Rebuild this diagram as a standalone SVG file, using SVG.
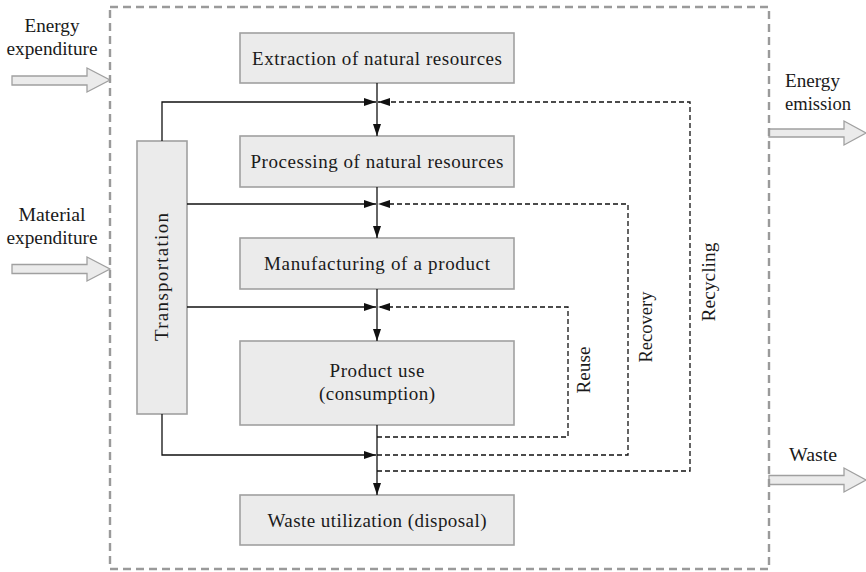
<svg xmlns="http://www.w3.org/2000/svg" width="866" height="572" viewBox="0 0 866 572">
  <style>
    .box { fill: #ebebeb; stroke: #a0a0a0; stroke-width: 1.6; }
    .big { fill: #ebebeb; stroke: #a0a0a0; stroke-width: 1.3; }
    .frame { fill: none; stroke: #9a9a9a; stroke-width: 2.4; stroke-dasharray: 8 5; }
    .flow { fill: none; stroke: #111; stroke-width: 1.3; }
    .back { fill: none; stroke: #111; stroke-width: 1.3; stroke-dasharray: 5 3; }
    text { font-family: "Liberation Serif", "Times New Roman", "DejaVu Serif", "Noto Serif", serif; font-size: 19px; fill: #1a1a1a; }
    .c { text-anchor: middle; }
  </style>
  <defs>
    <marker id="head" markerUnits="userSpaceOnUse" markerWidth="12" markerHeight="8" viewBox="0 0 12 8" refX="12" refY="4" orient="auto">
      <path d="M0,0 L12,4 L0,8 z" fill="#111"/>
    </marker>
  </defs>

  <!-- external flows -->
  <g id="in-energy">
    <polygon class="big" points="12,76 87,76 87,68 110,80 87,92 87,85 12,85"/>
    <text class="c" x="52" y="32" font-family="Liberation Serif, serif" textLength="55" lengthAdjust="spacingAndGlyphs">Energy</text>
    <text class="c" x="52" y="55" font-family="Liberation Serif, serif" textLength="91" lengthAdjust="spacingAndGlyphs">expenditure</text>
  </g>
  <g id="in-material">
    <polygon class="big" points="12,264.5 87,264.5 87,257 110,269 87,281 87,273.5 12,273.5"/>
    <text class="c" x="52" y="221" font-family="Liberation Serif, serif" textLength="67" lengthAdjust="spacingAndGlyphs">Material</text>
    <text class="c" x="52" y="244" font-family="Liberation Serif, serif" textLength="91" lengthAdjust="spacingAndGlyphs">expenditure</text>
  </g>
  <g id="out-energy">
    <polygon class="big" points="769,129 844,129 844,121 866,133 844,145 844,137 769,137"/>
    <text x="785" y="87" font-family="Liberation Serif, serif" textLength="55" lengthAdjust="spacingAndGlyphs">Energy</text>
    <text x="785" y="110" font-family="Liberation Serif, serif" textLength="66" lengthAdjust="spacingAndGlyphs">emission</text>
  </g>
  <g id="out-waste">
    <polygon class="big" points="769,475.5 844,475.5 844,468 866,480 844,492 844,484.5 769,484.5"/>
    <text x="789" y="461" font-family="Liberation Serif, serif" textLength="48" lengthAdjust="spacingAndGlyphs">Waste</text>
  </g>

  <!-- system boundary -->
  <rect class="frame" x="110" y="7" width="659" height="562"/>

  <!-- life-cycle stages -->
  <g id="extraction">
    <rect class="box" x="240" y="33" width="274" height="50"/>
    <text class="c" x="377" y="65" font-family="Liberation Serif, serif" textLength="250" lengthAdjust="spacing">Extraction of natural resources</text>
  </g>
  <g id="processing">
    <rect class="box" x="240" y="136" width="274" height="51"/>
    <text class="c" x="377" y="168" font-family="Liberation Serif, serif" textLength="253" lengthAdjust="spacing">Processing of natural resources</text>
  </g>
  <g id="manufacturing">
    <rect class="box" x="240" y="238" width="274" height="51"/>
    <text class="c" x="377" y="270" font-family="Liberation Serif, serif" textLength="226" lengthAdjust="spacing">Manufacturing of a product</text>
  </g>
  <g id="use">
    <rect class="box" x="240" y="341" width="274" height="84"/>
    <text class="c" x="377" y="377" font-family="Liberation Serif, serif" textLength="95" lengthAdjust="spacing">Product use</text>
    <text class="c" x="377" y="400" font-family="Liberation Serif, serif" textLength="116" lengthAdjust="spacing">(consumption)</text>
  </g>
  <g id="disposal">
    <rect class="box" x="240" y="495" width="274" height="50"/>
    <text class="c" x="377" y="527" font-family="Liberation Serif, serif" textLength="219" lengthAdjust="spacing">Waste utilization (disposal)</text>
  </g>
  <g id="transportation">
    <rect class="box" x="137" y="141" width="50" height="273"/>
    <text class="c" transform="translate(168,277) rotate(-90)" font-family="Liberation Serif, serif" textLength="128" lengthAdjust="spacing">Transportation</text>
  </g>

  <!-- connectors -->
  <g id="connectors">
    <path class="flow" d="M377,83 V136" marker-end="url(#head)"/>
    <path class="flow" d="M377,187 V238" marker-end="url(#head)"/>
    <path class="flow" d="M377,289 V341" marker-end="url(#head)"/>
    <path class="flow" d="M377,425 V495" marker-end="url(#head)"/>
    <path class="flow" d="M162,141 V102 H376" marker-end="url(#head)"/>
    <path class="flow" d="M187,204 H376" marker-end="url(#head)"/>
    <path class="flow" d="M187,307 H376" marker-end="url(#head)"/>
    <path class="flow" d="M162,414 V455 H376" marker-end="url(#head)"/>
    <path class="back" d="M377,437 H568 V307 H378" marker-end="url(#head)"/>
    <path class="back" d="M377,455 H628 V204 H378" marker-end="url(#head)"/>
    <path class="back" d="M377,471 H690 V102 H378" marker-end="url(#head)"/>
  </g>

  <!-- loop labels -->
  <g id="loop-labels">
    <text class="c" transform="translate(590,370) rotate(-90)" font-family="Liberation Serif, serif" textLength="47" lengthAdjust="spacingAndGlyphs">Reuse</text>
    <text class="c" transform="translate(652,327) rotate(-90)" font-family="Liberation Serif, serif" textLength="71" lengthAdjust="spacingAndGlyphs">Recovery</text>
    <text class="c" transform="translate(715,282) rotate(-90)" font-family="Liberation Serif, serif" textLength="79" lengthAdjust="spacingAndGlyphs">Recycling</text>
  </g>
</svg>
